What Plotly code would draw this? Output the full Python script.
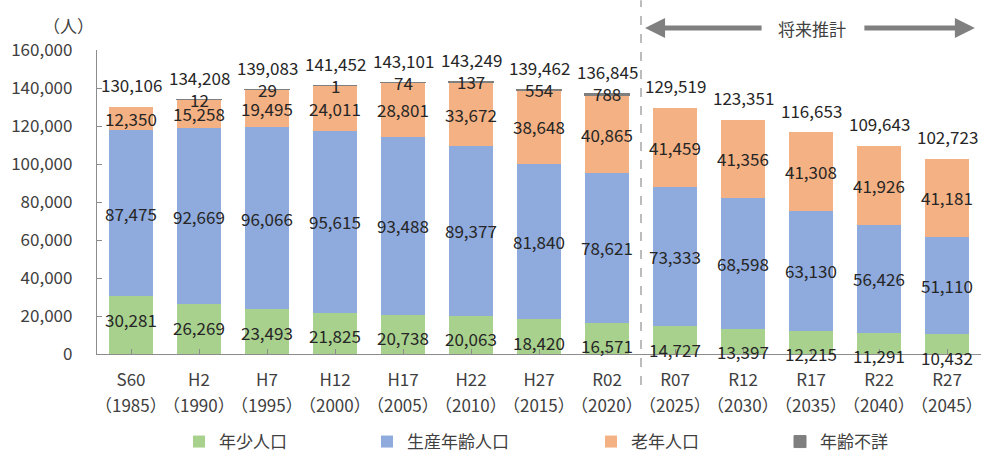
import plotly.graph_objects as go

categories = ["S60", "H2", "H7", "H12", "H17", "H22", "H27", "R02",
              "R07", "R12", "R17", "R22", "R27"]
years = ["（1985）", "（1990）", "（1995）", "（2000）", "（2005）", "（2010）", "（2015）",
         "（2020）", "（2025）", "（2030）", "（2035）", "（2040）", "（2045）"]
young = [30281, 26269, 23493, 21825, 20738, 20063, 18420, 16571,
         14727, 13397, 12215, 11291, 10432]
working = [87475, 92669, 96066, 95615, 93488, 89377, 81840, 78621,
           73333, 68598, 63130, 56426, 51110]
elderly = [12350, 15258, 19495, 24011, 28801, 33672, 38648, 40865,
           41459, 41356, 41308, 41926, 41181]
unknown = [None, 12, 29, 1, 74, 137, 554, 788,
           None, None, None, None, None]
totals = [130106, 134208, 139083, 141452, 143101, 143249, 139462, 136845,
          129519, 123351, 116653, 109643, 102723]

FONT = "Noto Sans CJK JP"
LABEL_COLOR = "#262626"
TICK_COLOR = "#404040"
AXIS_COLOR = "#8C8C8C"

names = ["年少人口", "生産年齢人口", "老年人口", "年齢不詳"]
colors = ["#A9D18E", "#8FAADC", "#F4B183", "#7F7F7F"]
series = [young, working, elderly, unknown]
legend_ids = ["legend", "legend2", "legend3", "legend4"]
legend_px = [179, 367, 591, 780]  # left edge of each legend box, pixels

x_idx = list(range(len(categories)))
fig = go.Figure()
for name, color, vals, lid in zip(names, colors, series, legend_ids):
    if name == "年齢不詳":
        line = dict(color="#7F7F7F", width=1)
    else:
        line = dict(width=0)
    fig.add_trace(go.Bar(x=x_idx, y=vals, name=name, legend=lid,
                         marker=dict(color=color, line=line)))

ann = []
lab_font = dict(family=FONT, size=17, color=LABEL_COLOR)
for i in x_idx:
    ann.append(dict(x=i, y=young[i], text=f"{young[i]:,}", showarrow=False,
                    yanchor="middle", yshift=-23, font=lab_font))
    base = young[i]
    ann.append(dict(x=i, y=base + working[i] / 2, text=f"{working[i]:,}", showarrow=False,
                    yanchor="middle", font=lab_font))
    base += working[i]
    ann.append(dict(x=i, y=base + elderly[i] / 2, text=f"{elderly[i]:,}", showarrow=False,
                    yanchor="middle", font=lab_font))
    base += elderly[i]
    if unknown[i] is not None:
        base += unknown[i]
        ann.append(dict(x=i, y=base, text=f"{unknown[i]:,}", showarrow=False,
                        yanchor="middle", font=lab_font))
    ann.append(dict(x=i, y=totals[i], text=f"{totals[i]:,}", showarrow=False,
                    yanchor="middle", yshift=22, font=lab_font))
    ann.append(dict(x=i, y=0, yref="paper", text=years[i], showarrow=False,
                    yanchor="middle", yshift=-50,
                    font=dict(family=FONT, size=17, color=TICK_COLOR)))

ann.append(dict(xref="paper", yref="paper", x=0, y=1, xshift=-29, yshift=25,
                text="（人）", showarrow=False, xanchor="center", yanchor="middle",
                font=dict(family=FONT, size=17, color=TICK_COLOR)))
arrow_y = 1.072
ann.append(dict(x=7.56, y=arrow_y, yref="paper", ax=118, ay=0, axref="pixel", ayref="pixel",
                text="", showarrow=True, arrowhead=2, arrowsize=0.8, arrowwidth=5,
                arrowcolor="#808080", standoff=0))
ann.append(dict(x=12.41, y=arrow_y, yref="paper", ax=-112, ay=0, axref="pixel", ayref="pixel",
                text="", showarrow=True, arrowhead=2, arrowsize=0.8, arrowwidth=5,
                arrowcolor="#808080", standoff=0))
ann.append(dict(x=10.01, y=arrow_y, yref="paper", text="将来推計", showarrow=False,
                yanchor="middle", font=dict(family=FONT, size=17, color=TICK_COLOR)))

W, H = 981, 453
layout_legends = {}
for lid, px in zip(legend_ids, legend_px):
    layout_legends[lid] = dict(orientation="h", xref="container", yref="container",
                               x=px / W, xanchor="left", y=1 - 442 / H, yanchor="middle",
                               itemwidth=30, bgcolor="rgba(0,0,0,0)",
                               font=dict(family=FONT, size=17, color=TICK_COLOR))

fig.update_layout(
    width=W, height=H,
    margin=dict(l=97, r=0, t=50, b=99),
    barmode="stack", bargap=0.34,
    plot_bgcolor="white", paper_bgcolor="white",
    font=dict(family=FONT, size=17, color=TICK_COLOR),
    annotations=ann,
    shapes=[dict(type="line", xref="x", yref="paper", x0=7.5, x1=7.5, y0=-0.102, y1=1.164,
                 line=dict(color="#A6A6A6", width=1.5, dash="dash"))],
    showlegend=True,
    **layout_legends,
)
fig.update_xaxes(tickmode="array", tickvals=x_idx, ticktext=categories,
                 range=[-0.5, 12.5], showline=True, linecolor=AXIS_COLOR, linewidth=1.2,
                 ticks="inside", tickson="boundaries", ticklen=5, tickcolor=AXIS_COLOR,
                 showgrid=False, ticklabelstandoff=10, automargin=False,
                 tickfont=dict(family=FONT, size=17, color=TICK_COLOR))
fig.update_yaxes(range=[0, 160000], tickvals=[0, 20000, 40000, 60000, 80000, 100000, 120000, 140000, 160000],
                 tickformat=",d", showline=True, linecolor=AXIS_COLOR, linewidth=1.2,
                 ticks="inside", ticklen=5, tickcolor=AXIS_COLOR, showgrid=False,
                 zeroline=False, ticklabelstandoff=20, automargin=False,
                 tickfont=dict(family=FONT, size=17, color=TICK_COLOR))

fig.write_html("out.html")
